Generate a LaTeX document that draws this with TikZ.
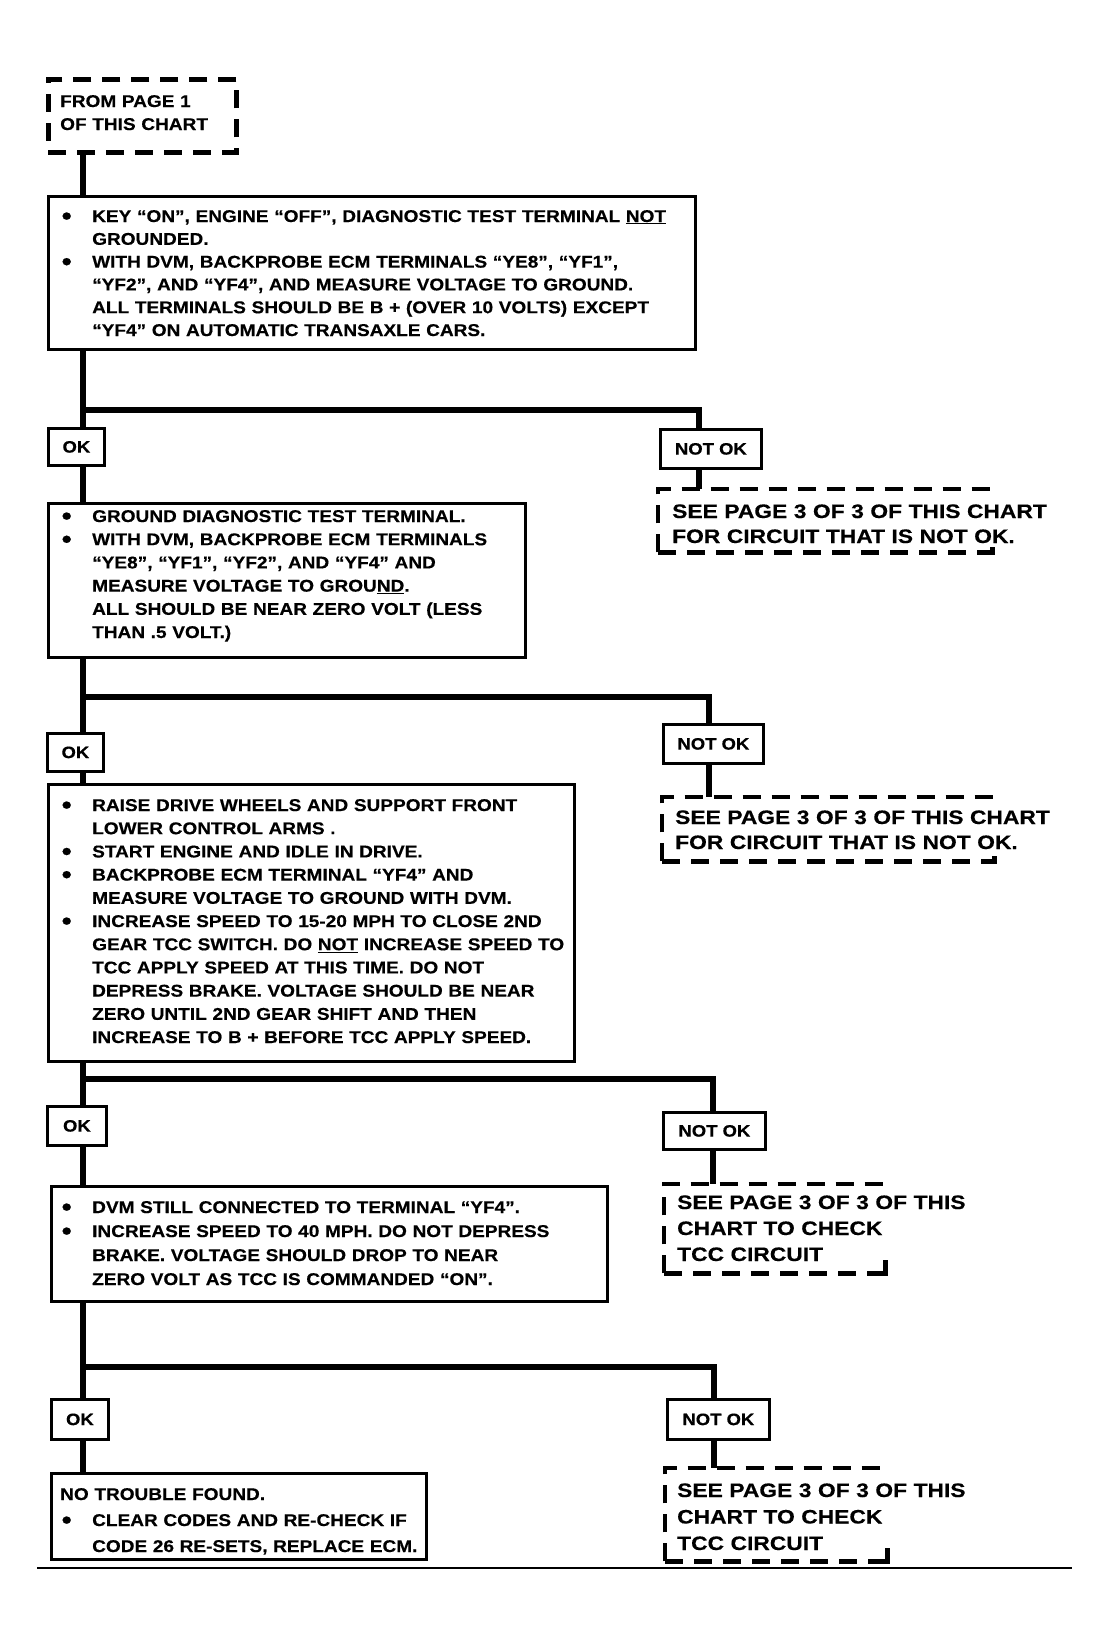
\documentclass[tikz,border=0pt]{standalone}
\usepackage{fontspec}
\setmainfont{Liberation Sans}[FakeStretch=1.12, BoldFeatures={FakeBold=0.4}]
\newfontfamily\dfont{Liberation Sans}[FakeStretch=1.17, BoldFeatures={FakeBold=0.3}]
\usepackage{graphicx}
\newcommand\bu{\makebox[32pt][l]{\hspace{1.5pt}\raisebox{-2.5pt}{\scalebox{1.5}{\textbullet}}}}
\newcommand\ind{\makebox[32pt]{}}
\begin{document}
\begin{tikzpicture}[x=1pt,y=-1pt,
  sbox/.style={draw, line width=2.5pt, inner sep=0pt, anchor=north west},
  dbox/.style={draw, line width=4.5pt, dash pattern=on 18pt off 11pt, inner sep=0pt, anchor=north west},
  obox/.style={inner sep=0pt, anchor=north west},
  dline/.style={line width=4.5pt, dash pattern=on 18pt off 11pt},
  okbox/.style={draw, line width=2.8pt, inner sep=0pt, anchor=north west, font=\bfseries\fontsize{16.5}{16.5}\selectfont},
  txt/.style={anchor=base west, inner sep=0pt, text width=680pt, align=left, font=\bfseries\fontsize{17}{#1}\selectfont},
  dtxt/.style={anchor=base west, inner sep=0pt, text width=420pt, align=left, font=\dfont\bfseries\fontsize{19.5}{#1}\selectfont},
  conn/.style={line width=6.5pt, line join=miter},
]
\useasboundingbox[fill=white] (0,0) rectangle (1109,1644);

% boxes
\node[dbox, minimum width=188pt, minimum height=73pt] (from) at (46,77) {};
\node[sbox, minimum width=647pt, minimum height=153pt] (b1) at (47,195) {};
\node[sbox, minimum width=477pt, minimum height=154pt] (b2) at (47,502) {};
\node[sbox, minimum width=526pt, minimum height=277pt] (b3) at (47,783) {};
\node[sbox, minimum width=556pt, minimum height=115pt] (b4) at (50,1185) {};
\node[sbox, minimum width=375pt, minimum height=86pt] (b5) at (50,1472) {};

\node[okbox, minimum width=56pt, minimum height=37pt] (ok1) at (47,427) {OK};
\node[okbox, minimum width=56pt, minimum height=38pt] (ok2) at (46,732) {OK};
\node[okbox, minimum width=59pt, minimum height=39pt] (ok3) at (46,1105) {OK};
\node[okbox, minimum width=57pt, minimum height=40pt] (ok4) at (50,1398) {OK};

\node[okbox, minimum width=101pt, minimum height=39pt] (nok1) at (659,428) {NOT OK};
\node[okbox, minimum width=100pt, minimum height=39pt] (nok2) at (662,723) {NOT OK};
\node[okbox, minimum width=102pt, minimum height=37pt] (nok3) at (662,1111) {NOT OK};
\node[okbox, minimum width=102pt, minimum height=40pt] (nok4) at (666,1398) {NOT OK};

% open dashed boxes (no right side, only a short tick at the lower right)
\node[obox, minimum width=334pt, minimum height=63pt] (d1) at (658,489) {};
\node[obox, minimum width=332pt, minimum height=64pt] (d2) at (662,797) {};
\node[obox, minimum width=221pt, minimum height=89pt] (d3) at (664,1184) {};
\node[obox, minimum width=222pt, minimum height=93pt] (d4) at (665,1468) {};
\foreach \d/\h in {d1/5pt,d2/5pt,d3/13pt,d4/13pt}{
  \draw[dline] (\d.south west) -- (\d.north west) -- (\d.north east);
  \draw[dline] (\d.south west) -- (\d.south east);
  \draw[line width=4.5pt] ([xshift=-8pt]\d.south east) -- (\d.south east) -- ([yshift=\h]\d.south east);
}

% texts
\node[txt=23] (tf) at (60,107) {FROM PAGE 1\\OF THIS CHART};
\node[txt=22.8] (t1) at (60,222) {\bu KEY “ON”, ENGINE “OFF”, DIAGNOSTIC TEST TERMINAL \underline{NOT}\\
\ind GROUNDED.\\
\bu WITH DVM, BACKPROBE ECM TERMINALS “YE8”, “YF1”,\\
\ind “YF2”, AND “YF4”, AND MEASURE VOLTAGE TO GROUND.\\
\ind ALL TERMINALS SHOULD BE B + (OVER 10 VOLTS) EXCEPT\\
\ind “YF4” ON AUTOMATIC TRANSAXLE CARS.};
\node[txt=23.2] (t2) at (60,522) {\bu GROUND DIAGNOSTIC TEST TERMINAL.\\
\bu WITH DVM, BACKPROBE ECM TERMINALS\\
\ind “YE8”, “YF1”, “YF2”, AND “YF4” AND\\
\ind MEASURE VOLTAGE TO GROU\underline{ND}.\\
\ind ALL SHOULD BE NEAR ZERO VOLT (LESS\\
\ind THAN .5 VOLT.)};
\node[txt=23.2] (t3) at (60,811) {\bu RAISE DRIVE WHEELS AND SUPPORT FRONT\\
\ind LOWER CONTROL ARMS .\\
\bu START ENGINE AND IDLE IN DRIVE.\\
\bu BACKPROBE ECM TERMINAL “YF4” AND\\
\ind MEASURE VOLTAGE TO GROUND WITH DVM.\\
\bu INCREASE SPEED TO 15-20 MPH TO CLOSE 2ND\\
\ind GEAR TCC SWITCH. DO \underline{NOT} INCREASE SPEED TO\\
\ind TCC APPLY SPEED AT THIS TIME. DO NOT\\
\ind DEPRESS BRAKE. VOLTAGE SHOULD BE NEAR\\
\ind ZERO UNTIL 2ND GEAR SHIFT AND THEN\\
\ind INCREASE TO B + BEFORE TCC APPLY SPEED.};
\node[txt=24] (t4) at (60,1213) {\bu DVM STILL CONNECTED TO TERMINAL “YF4”.\\
\bu INCREASE SPEED TO 40 MPH. DO NOT DEPRESS\\
\ind BRAKE. VOLTAGE SHOULD DROP TO NEAR\\
\ind ZERO VOLT AS TCC IS COMMANDED “ON”.};
\node[txt=26] (t5) at (60,1500) {NO TROUBLE FOUND.\\
\bu CLEAR CODES AND RE-CHECK IF\\
\ind CODE 26 RE-SETS, REPLACE ECM.};

\node[dtxt=25] (dt1) at (672,518) {SEE PAGE 3 OF 3 OF THIS CHART\\FOR CIRCUIT THAT IS NOT OK.};
\node[dtxt=25] (dt2) at (675,824) {SEE PAGE 3 OF 3 OF THIS CHART\\FOR CIRCUIT THAT IS NOT OK.};
\node[dtxt=26] (dt3) at (677,1209) {SEE PAGE 3 OF 3 OF THIS\\CHART TO CHECK\\TCC CIRCUIT};
\node[dtxt=26.5] (dt4) at (677,1497) {SEE PAGE 3 OF 3 OF THIS\\CHART TO CHECK\\TCC CIRCUIT};

% connectors
\coordinate (tr) at (83,0);
\coordinate (j1) at (83,410);  \coordinate (r1) at (699,410);
\coordinate (j2) at (83,697);  \coordinate (r2) at (709,697);
\coordinate (j3) at (83,1079); \coordinate (r3) at (713,1079);
\coordinate (j4) at (83,1367); \coordinate (r4) at (714,1367);

\draw[conn] (from.south -| tr) -- (b1.north -| tr);
\draw[conn] (b1.south -| tr) -- (ok1.north -| tr);
\draw[conn] (ok1.south -| tr) -- (b2.north -| tr);
\draw[conn] (b2.south -| tr) -- (ok2.north -| tr);
\draw[conn] (ok2.south -| tr) -- (b3.north -| tr);
\draw[conn] (b3.south -| tr) -- (ok3.north -| tr);
\draw[conn] (ok3.south -| tr) -- (b4.north -| tr);
\draw[conn] (b4.south -| tr) -- (ok4.north -| tr);
\draw[conn] (ok4.south -| tr) -- (b5.north -| tr);

\draw[conn] (j1) -- (r1) -- (nok1.north -| r1);
\draw[conn] (j2) -- (r2) -- (nok2.north -| r2);
\draw[conn] (j3) -- (r3) -- (nok3.north -| r3);
\draw[conn] (j4) -- (r4) -- (nok4.north -| r4);

\draw[conn] (nok1.south -| r1) -- (d1.north -| r1);
\draw[conn] (nok2.south -| r2) -- (d2.north -| r2);
\draw[conn] (nok3.south -| r3) -- (d3.north -| r3);
\draw[conn] (nok4.south -| r4) -- (d4.north -| r4);

% bottom rule
\coordinate (bl) at (37,1568);
\coordinate (br) at (1072,1568);
\draw[line width=1.5pt] (bl) -- (br);
\end{tikzpicture}
\end{document}
